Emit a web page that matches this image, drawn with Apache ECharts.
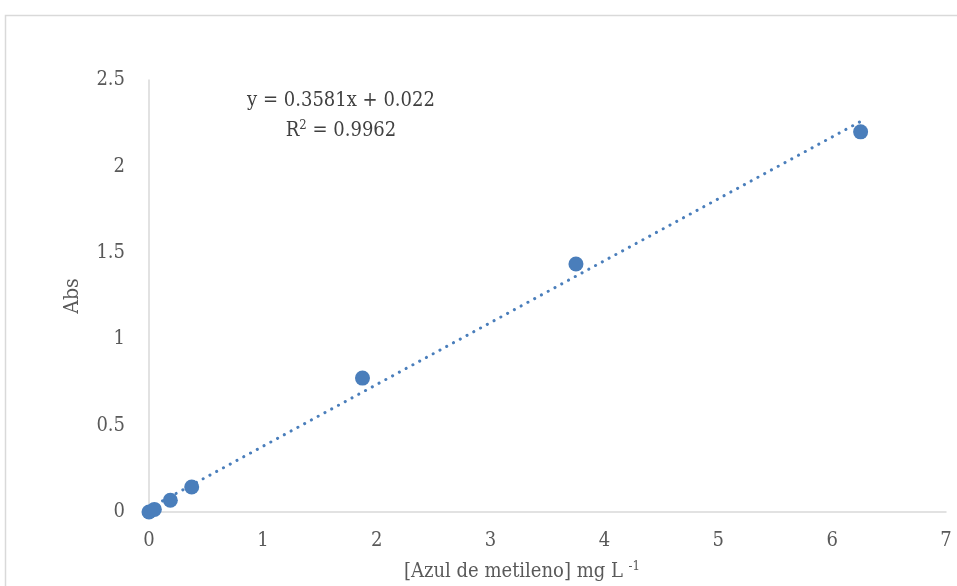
<!DOCTYPE html>
<html><head><meta charset="utf-8">
<script src="https://cdn.jsdelivr.net/npm/echarts@6/dist/echarts.min.js"></script>
<style>html,body{margin:0;padding:0;background:#fff}#c{width:957px;height:586px}</style>
</head><body><div id="c"></div>
<script>
const xValues = [0, 0.047, 0.1875, 0.375, 1.875, 3.75, 6.25];
const yValues = [0, 0.015, 0.068, 0.145, 0.775, 1.435, 2.2];
const slope = 0.3581, intercept = 0.022;
const trendX = [0, 6.25];
const xTicks = [0,1,2,3,4,5,6,7];
const yTicks = [0,0.5,1,1.5,2,2.5];
const xTitle = '[Azul de metileno] mg L';
const xTitleSup = '-1';
const yTitle = 'Abs';

const font = '"DejaVu Serif Condensed", "DejaVu Serif", serif';
const pts = xValues.map((x,i)=>[x,yValues[i]]);
const trend = trendX.map(x=>[x, slope*x+intercept]);
const chart = echarts.init(document.getElementById('c'));
chart.setOption({
  animation:false,
  graphic:[{type:'rect',shape:{x:5.5,y:15.5,width:1000,height:1000},style:{fill:'none',stroke:'#d9d9d9',lineWidth:1.5},silent:true},
    {type:'text',x:341,y:101,style:{text:'y = 0.3581x + 0.022',font:'20px '+font,fill:'#404040',align:'center',verticalAlign:'middle'}},
    {type:'text',x:341,y:131,style:{text:'R{s|2} = 0.9962',font:'20px '+font,fill:'#404040',align:'center',verticalAlign:'middle',rich:{s:{fontSize:13,verticalAlign:'top',padding:[0,0,10,0],fontFamily:font,fill:'#404040'}}}},
    {type:'text',x:404,y:572,style:{text:xTitle+' {s|'+xTitleSup+'}',font:'20px '+font,fill:'#595959',align:'left',verticalAlign:'middle',rich:{s:{fontSize:13,verticalAlign:'top',padding:[0,0,10,0],fontFamily:font,fill:'#595959'}}}}
  ],
  grid:{left:149,top:80,right:11,bottom:74,containLabel:false},
  xAxis:{type:'value',min:0,max:7,interval:1,
    axisLine:{lineStyle:{color:'#d9d9d9',width:1.5}},axisTick:{show:false},splitLine:{show:false},
    axisLabel:{fontFamily:font,fontSize:20,color:'#595959',margin:19}},
  yAxis:{type:'value',min:0,max:2.5,interval:0.5,
    name:yTitle,nameLocation:'middle',nameGap:66,nameRotate:90,
    nameTextStyle:{fontFamily:font,fontSize:21,color:'#595959'},
    axisLine:{show:true,lineStyle:{color:'#d9d9d9',width:1.5}},axisTick:{show:false},splitLine:{show:false},
    axisLabel:{fontFamily:font,fontSize:20,color:'#595959',margin:24}},
  series:[
    {type:'line',data:trend,symbol:'none',lineStyle:{color:'#4a7ebb',width:3,type:[0.1,7.6],cap:'round'},z:1},
    {type:'scatter',data:pts,symbolSize:15,itemStyle:{color:'#4a7ebb',opacity:1},z:2}
  ]
});
</script></body></html>
